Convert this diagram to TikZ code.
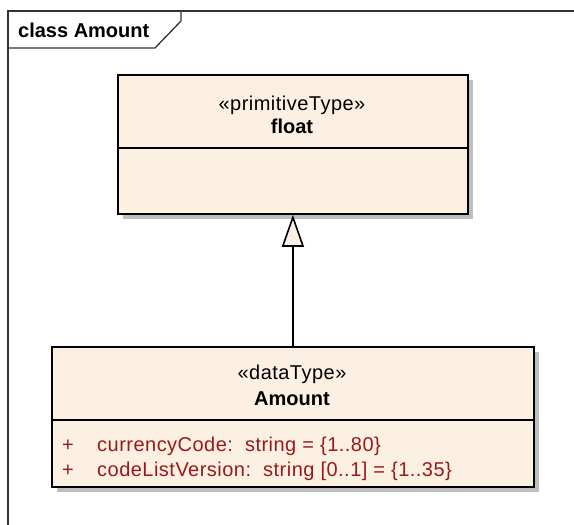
\documentclass[tikz,border=0pt]{standalone}
\usepackage{fontspec}
\setmainfont{Liberation Sans}
\newfontfamily\spacedfont[LetterSpace=2.4]{Liberation Sans}
\usetikzlibrary{arrows.meta}
\definecolor{classfill}{HTML}{FBF0E2}
\definecolor{shadowgrey}{HTML}{BEBEBE}
\definecolor{attrred}{HTML}{981A1A}
\tikzset{
  umlbox/.style={draw=black, line width=1.8pt, fill=classfill, rectangle, inner sep=0pt, anchor=north west},
  boxtext/.style={inner sep=0pt, anchor=base, font=\spacedfont\fontsize{20}{24}\selectfont},
  boldtext/.style={inner sep=0pt, anchor=base, font=\fontsize{20}{24}\selectfont\bfseries},
  attrtext/.style={inner sep=0pt, anchor=base west, text=attrred, font=\spacedfont\fontsize{20}{24}\selectfont},
  framestyle/.style={draw=black!80, line width=1.3pt},
  gen/.style={line width=1.8pt, -{Triangle[length=32pt, width=22pt, fill=classfill, line width=1.6pt]}}
}
\begin{document}
\begin{tikzpicture}[x=1pt, y=-1pt]
\useasboundingbox (0,0) rectangle (574,525);
% frame
\draw[framestyle] (574,11) -- (8,11) -- (8,525);
\draw[framestyle] (8,48) -- (155,48) -- (181,21) -- (181,11);
\node[inner sep=0pt, anchor=base west, font=\fontsize{20}{24}\selectfont\bfseries] (title) at (18,37) {class Amount};
% shadows
\fill[shadowgrey] (123,80) rectangle (473,219);
\fill[shadowgrey] (57,352) rectangle (539,492);
% float box
\node[umlbox, minimum width=350pt, minimum height=139pt] (float) at (117,74) {};
\draw[line width=1.6pt] (117,148) coordinate (fl) -- (467,148) coordinate (fr);
\node[boxtext] (fst) at (292,110) {«primitiveType»};
\node[boldtext] (fname) at (292,133) {float};
% Amount box
\node[umlbox, minimum width=482pt, minimum height=140pt] (amount) at (51,346) {};
\draw[line width=1.6pt] (51,420) coordinate (al) -- (533,420) coordinate (ar);
\node[boxtext] (ast) at (292,379) {«dataType»};
\node[boldtext] (aname) at (292,405) {Amount};
\node[attrtext] (p1) at (62,451) {+};
\node[attrtext] (a1) at (97,451) {currencyCode:\ \ string = \{1..80\}};
\node[attrtext] (p2) at (62,476) {+};
\node[attrtext] (a2) at (97,476) {codeListVersion:\ \ string [0..1] = \{1..35\}};
% generalization
\draw[gen] (amount.north -| float.south) -- (float.south);
\end{tikzpicture}
\end{document}
